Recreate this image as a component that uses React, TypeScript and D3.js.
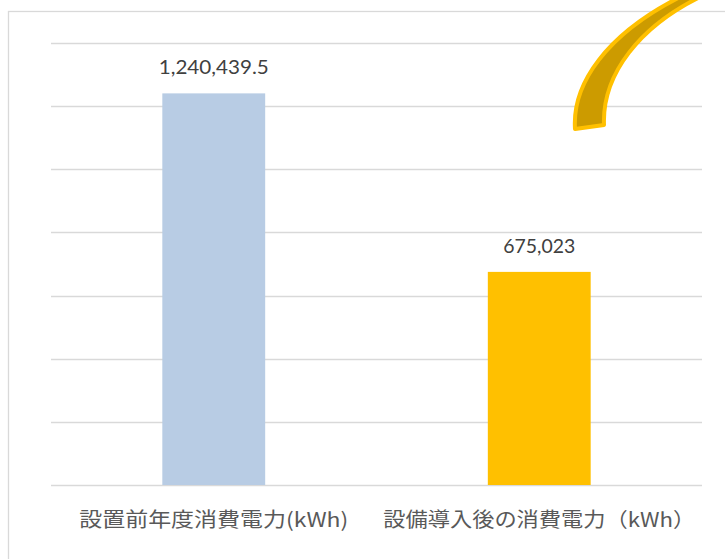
import { useEffect, useRef } from 'react';
import * as d3 from 'd3';

const categories = ['設置前年度消費電力(kWh)', '設備導入後の消費電力（kWh）'];
const categoryWidths = [269, 312];
const values = [1240439.5, 675023];
const valueLabels = ['1,240,439.5', '675,023'];
const valueLabelWidths = [110, 72];
const barColors = ['#B8CCE4', '#FFC000'];
const gridTicks = [0, 200000, 400000, 600000, 800000, 1000000, 1200000, 1400000];

function App() {
  const svgRef = useRef<SVGSVGElement>(null);

  useEffect(() => {
    const W = 725;
    const H = 559;
    const plot = { left: 51, right: 702, top: 43, bottom: 485 };

    const svg = d3.select(svgRef.current);
    svg.selectAll('*').remove();

    svg.append('rect').attr('width', W).attr('height', H).attr('fill', '#fff');

    // chart area frame (extends off the right / bottom edge)
    svg
      .append('rect')
      .attr('x', 8.5)
      .attr('y', 11.5)
      .attr('width', W + 20)
      .attr('height', H + 20)
      .attr('fill', 'none')
      .attr('stroke', '#D9D9D9')
      .attr('stroke-width', 1.3);

    const x = d3.scaleBand().domain(categories).range([plot.left, plot.right]).padding(0);
    const y = d3.scaleLinear().domain([0, 1400000]).range([plot.bottom, plot.top]);

    // gridlines
    svg
      .append('g')
      .selectAll('line')
      .data(gridTicks)
      .enter()
      .append('line')
      .attr('x1', plot.left)
      .attr('x2', plot.right)
      .attr('y1', (d) => Math.round(y(d)) + 0.5)
      .attr('y2', (d) => Math.round(y(d)) + 0.5)
      .attr('stroke', '#D9D9D9')
      .attr('stroke-width', 1.3);

    const barW = x.bandwidth() * 0.316;

    // bars
    svg
      .append('g')
      .selectAll('rect')
      .data(values)
      .enter()
      .append('rect')
      .attr('x', (d, i) => x(categories[i])! + x.bandwidth() / 2 - barW / 2)
      .attr('y', (d) => y(d))
      .attr('width', barW)
      .attr('height', (d) => y(0) - y(d))
      .attr('fill', (d, i) => barColors[i]);

    // value labels
    svg
      .append('g')
      .selectAll('text')
      .data(values)
      .enter()
      .append('text')
      .attr('x', (d, i) => x(categories[i])! + x.bandwidth() / 2)
      .attr('y', (d) => y(d) - 19)
      .attr('text-anchor', 'middle')
      .attr('textLength', (d, i) => valueLabelWidths[i])
      .attr('lengthAdjust', 'spacingAndGlyphs')
      .style('font-family', 'Lato, "Noto Sans", sans-serif')
      .style('font-size', '19px')
      .style('fill', '#404040')
      .text((d, i) => valueLabels[i]);

    // category labels
    svg
      .append('g')
      .selectAll('text')
      .data(categories)
      .enter()
      .append('text')
      .attr('x', (d) => x(d)! + x.bandwidth() / 2)
      .attr('y', 527)
      .attr('text-anchor', 'middle')
      .attr('textLength', (d, i) => categoryWidths[i])
      .attr('lengthAdjust', 'spacingAndGlyphs')
      .style('font-family', '"Noto Sans CJK JP", sans-serif')
      .style('font-size', '20px')
      .style('fill', '#595959')
      .text((d) => d);

    // curved arrow shaft (decoration, tip runs off the top edge)
    svg
      .append('path')
      .attr(
        'd',
        'M575,129 C572,84 606,34 682,-4 L702,-4 C640,26 602,74 604,125 Z'
      )
      .attr('fill', '#CC9B00')
      .attr('stroke', '#FFC000')
      .attr('stroke-width', 4)
      .attr('stroke-linejoin', 'round');
  }, []);

  return (
    <svg
      ref={svgRef}
      width={725}
      height={559}
      style={{ position: 'absolute', left: 0, top: 0 }}
    ></svg>
  );
}

export default App;
